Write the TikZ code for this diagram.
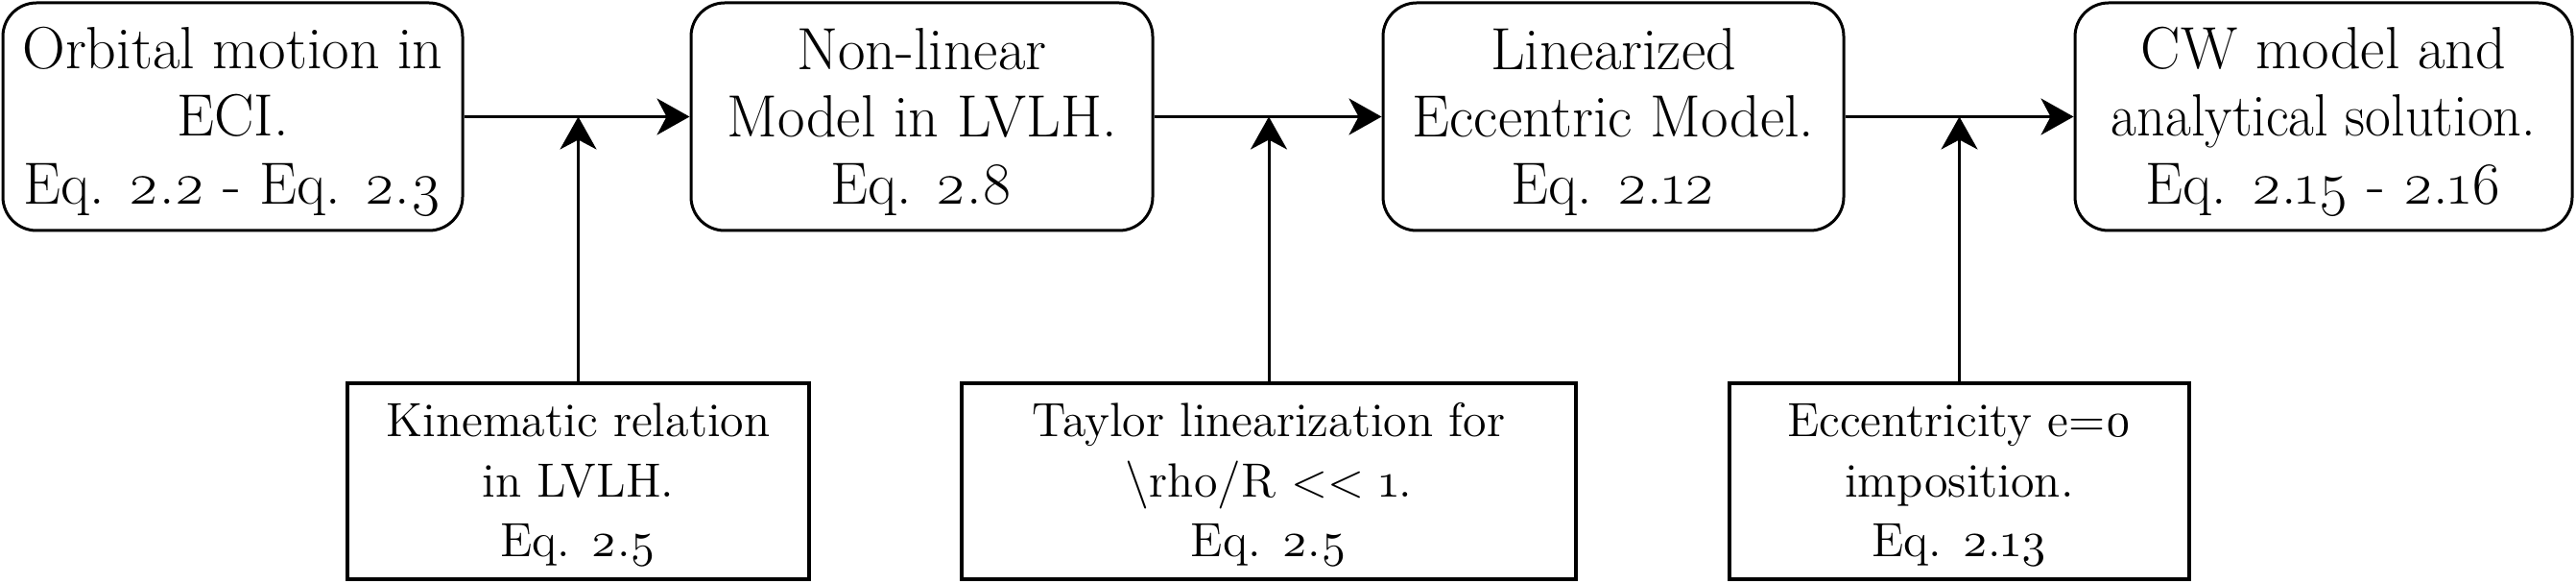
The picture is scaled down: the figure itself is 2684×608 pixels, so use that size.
\documentclass[tikz,border=0pt]{standalone}
\usepackage{fontspec}
\setmainfont{Latin Modern Roman}[Numbers=OldStyle]
\usetikzlibrary{arrows.meta}
\newcommand{\topstrut}{\rule{0pt}{13.5pt}}
\newcommand{\botstrut}{\rule{0pt}{10.7pt}}
\begin{document}
\begin{tikzpicture}[x=0.25pt,y=-0.25pt,
  topbox/.style={draw, line width=0.75pt, rounded corners=8.75pt,
    minimum width=#1, minimum height=59.25pt, align=center, inner sep=0pt,
    font=\fontsize{15.5}{17.6}\selectfont},
  botbox/.style={draw, line width=1pt,
    minimum width=#1, minimum height=51pt, align=center, inner sep=0pt,
    font=\fontsize{12.5}{15.6}\selectfont},
  arr/.style={line width=0.75pt, -{Stealth[length=8.5pt,width=9.5pt,inset=2.5pt]}}]
\useasboundingbox (0,0) rectangle (2684,608);
\node[topbox=119.75pt] (b1) at (242.5,121.5) {\topstrut Orbital motion in\\ECI.\\Eq. 2.2 - Eq. 2.3};
\node[topbox=120.25pt] (b2) at (960.5,121.5) {\topstrut Non-linear\\Model in LVLH.\\Eq. 2.8};
\node[topbox=120pt] (b3) at (1681,121.5) {\topstrut Linearized\\Eccentric Model.\\Eq. 2.12};
\node[topbox=129.5pt] (b4) at (2421,121.5) {\topstrut CW model and\\\scalebox{0.94}[1]{analytical solution.}\\Eq. 2.15 - 2.16};
\node[botbox=120.25pt] (k1) at (602.5,501) {\botstrut Kinematic relation\\in LVLH.\\Eq. 2.5};
\node[botbox=160pt] (k2) at (1322,501) {\botstrut Taylor linearization for\\\textbackslash rho/R <\kern0pt< 1.\\Eq. 2.5};
\node[botbox=119.75pt] (k3) at (2041.5,501) {\botstrut Eccentricity e=0\\imposition.\\Eq. 2.13};
\coordinate (m1) at (k1.north |- b1.east);
\coordinate (m2) at (k2.north |- b2.east);
\coordinate (m3) at (k3.north |- b3.east);
\draw[arr] (b1.east) -- (b2.west);
\draw[arr] (b2.east) -- (b3.west);
\draw[arr] (b3.east) -- (b4.west);
\draw[arr] (k1.north) -- (m1);
\draw[arr] (k2.north) -- (m2);
\draw[arr] (k3.north) -- (m3);
\end{tikzpicture}
\end{document}
